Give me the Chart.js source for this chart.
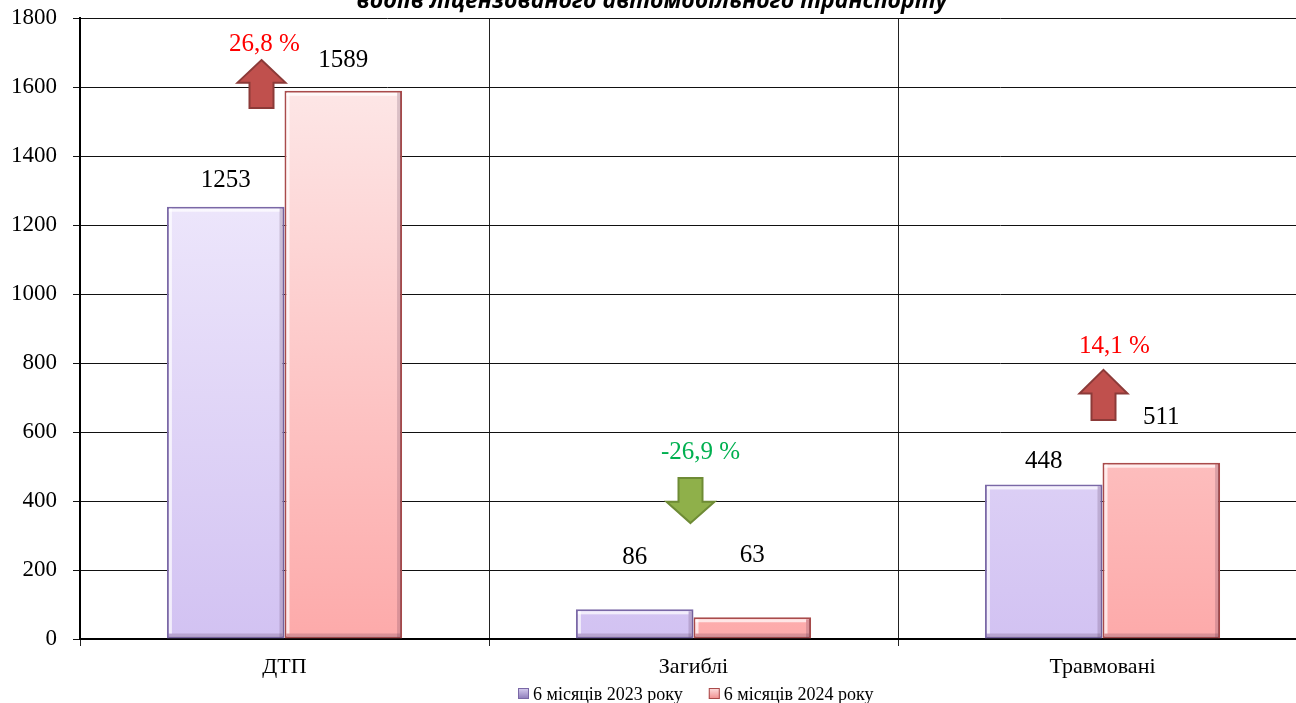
<!DOCTYPE html>
<html>
<head>
<meta charset="utf-8">
<script src="https://cdn.jsdelivr.net/npm/chart.js@4/dist/chart.umd.min.js"></script>
<style>
  html, body { margin: 0; padding: 0; background: #fff; overflow: hidden; }
  #wrap { position: absolute; left: 0; top: 0; width: 1312px; height: 703px; }
</style>
</head>
<body>
<div id="wrap"><canvas id="c"></canvas></div>
<script>
/* ── DATA ─────────────────────────────────── */
const categories = ['ДТП', 'Загиблі', 'Травмовані'];
const series2023 = [1253, 86, 448];
const series2024 = [1589, 63, 511];
const seriesNames = ['6 місяців 2023 року', '6 місяців 2024 року'];
const yTicks = [0, 200, 400, 600, 800, 1000, 1200, 1400, 1600, 1800];
const changeText = ['26,8 %', '-26,9 %', '14,1 %'];
const changeDir = ['up', 'down', 'up'];
const title = 'водіїв ліцензованого автомобільного транспорту';

/* annotation anchors (data units) */
const arrowTop = [1678, 467, 780];
const arrowBottom = [1539, 336, 635];
const changeTextAt = [1722, 542, 849];
const arrowShift = [-23, -3, 1];   // px from category centre
const textShift = [-20, 7, 12];
const labelLift = [[26, 52, 23], [30, 62, 45]];

const SERIF = "'Liberation Serif', 'Times New Roman', serif";

/* ── STYLE ────────────────────────────────── */
const palette = [
    { top: '#f8f5ff', bottom: '#d2c2f2', border: '#7a68a6' },
    { top: '#fdeeee', bottom: '#fdaaaa', border: '#a94b4b' }
];

function barFill(i) {
    return (ctx) => {
        const { chart } = ctx;
        const area = chart.chartArea;
        if (!area) return palette[i].bottom;
        const g = chart.ctx.createLinearGradient(0, area.top, 0, area.bottom);
        g.addColorStop(0, palette[i].top);
        g.addColorStop(1, palette[i].bottom);
        return g;
    };
}

/* bevel + value labels */
const barDecor = {
    id: 'barDecor',
    afterDatasetsDraw(chart) {
        const c = chart.ctx;
        chart.data.datasets.forEach((ds, di) => {
            chart.getDatasetMeta(di).data.forEach((bar, i) => {
                const l = bar.x - bar.width / 2, r = bar.x + bar.width / 2;
                const t = bar.y, b = bar.base;
                c.save();
                c.fillStyle = 'rgba(60,30,60,0.18)';
                c.fillRect(r - 5, t + 2, 4, b - t - 3);
                c.fillRect(l + 2, b - 5, r - l - 4, 4);
                c.fillStyle = 'rgba(255,255,255,0.7)';
                c.fillRect(l + 2, t + 2, r - l - 7, 3);
                c.fillRect(l + 2, t + 2, 3, b - t - 7);
                c.restore();

                c.save();
                c.font = '25px ' + SERIF;
                c.fillStyle = '#000';
                c.textAlign = 'center';
                c.textBaseline = 'middle';
                c.fillText(String(ds.data[i]), bar.x, bar.y - labelLift[di][i]);
                c.restore();
            });
        });
    }
};

/* change arrows, title, legend */
const extras = {
    id: 'extras',
    afterDraw(chart) {
        const c = chart.ctx;
        const xs = chart.scales.x, ys = chart.scales.y;

        categories.forEach((cat, i) => {
            const cx = xs.getPixelForValue(i) + arrowShift[i];
            const y1 = ys.getPixelForValue(arrowTop[i]);
            const y2 = ys.getPixelForValue(arrowBottom[i]);
            const head = 24, shaft = 12, headH = (y2 - y1) * 0.47;
            const up = changeDir[i] === 'up';
            c.save();
            c.beginPath();
            if (up) {
                c.moveTo(cx, y1);
                c.lineTo(cx + head, y1 + headH);
                c.lineTo(cx + shaft, y1 + headH);
                c.lineTo(cx + shaft, y2);
                c.lineTo(cx - shaft, y2);
                c.lineTo(cx - shaft, y1 + headH);
                c.lineTo(cx - head, y1 + headH);
            } else {
                c.moveTo(cx, y2);
                c.lineTo(cx + head, y2 - headH);
                c.lineTo(cx + shaft, y2 - headH);
                c.lineTo(cx + shaft, y1);
                c.lineTo(cx - shaft, y1);
                c.lineTo(cx - shaft, y2 - headH);
                c.lineTo(cx - head, y2 - headH);
            }
            c.closePath();
            c.fillStyle = up ? '#c0504d' : '#8fb04a';
            c.strokeStyle = up ? '#8c3a38' : '#6e8b35';
            c.lineWidth = 2;
            c.fill();
            c.stroke();

            c.font = '25px ' + SERIF;
            c.fillStyle = up ? '#ff0000' : '#00b050';
            c.textAlign = 'center';
            c.textBaseline = 'middle';
            c.fillText(changeText[i], xs.getPixelForValue(i) + textShift[i],
                       ys.getPixelForValue(changeTextAt[i]));
            c.restore();
        });

        // title, cut off by the top edge
        c.save();
        c.font = "italic bold 23px 'Open Sans', 'DejaVu Sans', sans-serif";
        c.fillStyle = '#000';
        c.textAlign = 'center';
        c.textBaseline = 'alphabetic';
        c.fillText(title, 652, 8);
        c.restore();

        // legend
        c.save();
        c.font = '18px ' + SERIF;
        c.textBaseline = 'alphabetic';
        c.fillStyle = '#000';
        let x = 518;
        const ly = 688;
        seriesNames.forEach((name, i) => {
            const g = c.createLinearGradient(0, ly, 0, ly + 11);
            g.addColorStop(0, i === 0 ? '#d8cff0' : '#fde0e0');
            g.addColorStop(1, i === 0 ? '#8a78b8' : '#f08c8c');
            c.fillStyle = g;
            c.fillRect(x, ly, 11, 11);
            c.strokeStyle = palette[i].border;
            c.lineWidth = 1;
            c.strokeRect(x + 0.5, ly + 0.5, 10, 10);
            c.fillStyle = '#000';
            c.fillText(name, x + 15, 700);
            x += 15 + c.measureText(name).width + 26;
        });
        c.restore();
    }
};

/* ── CHART ────────────────────────────────── */
new Chart(document.getElementById('c'), {
    type: 'bar',
    data: {
        labels: categories,
        datasets: [
            {
                label: seriesNames[0], data: series2023,
                backgroundColor: barFill(0), borderColor: palette[0].border,
                borderWidth: 2, borderSkipped: false
            },
            {
                label: seriesNames[1], data: series2024,
                backgroundColor: barFill(1), borderColor: palette[1].border,
                borderWidth: 2, borderSkipped: false
            }
        ]
    },
    options: {
        responsive: true, maintainAspectRatio: false, animation: false,
        layout: { padding: { top: 18, right: 5, left: 0, bottom: 0 } },
        categoryPercentage: 0.575, barPercentage: 1,
        plugins: { legend: { display: false }, tooltip: { enabled: false } },
        scales: {
            x: {
                offset: true,
                grid: { offset: true, color: '#222', lineWidth: 1, tickLength: 7, drawOnChartArea: true },
                border: { color: '#000', width: 2 },
                ticks: { color: '#000', font: { family: SERIF, size: 22 }, padding: 8 },
                afterFit: (s) => { s.height = 64; s.paddingLeft = 0; s.paddingRight = 0; }
            },
            y: {
                min: 0, max: 1800,
                afterBuildTicks: (s) => { s.ticks = yTicks.map(v => ({ value: v })); },
                grid: { color: '#111', lineWidth: 1, tickLength: 7 },
                border: { color: '#000', width: 2 },
                ticks: { color: '#000', font: { family: SERIF, size: 23 }, padding: 16,
                         callback: (v) => String(v) },
                afterFit: (s) => { s.width = 80; s.paddingTop = 0; s.paddingBottom = 0; }
            }
        }
    },
    plugins: [barDecor, extras]
});
</script>
</body>
</html>
